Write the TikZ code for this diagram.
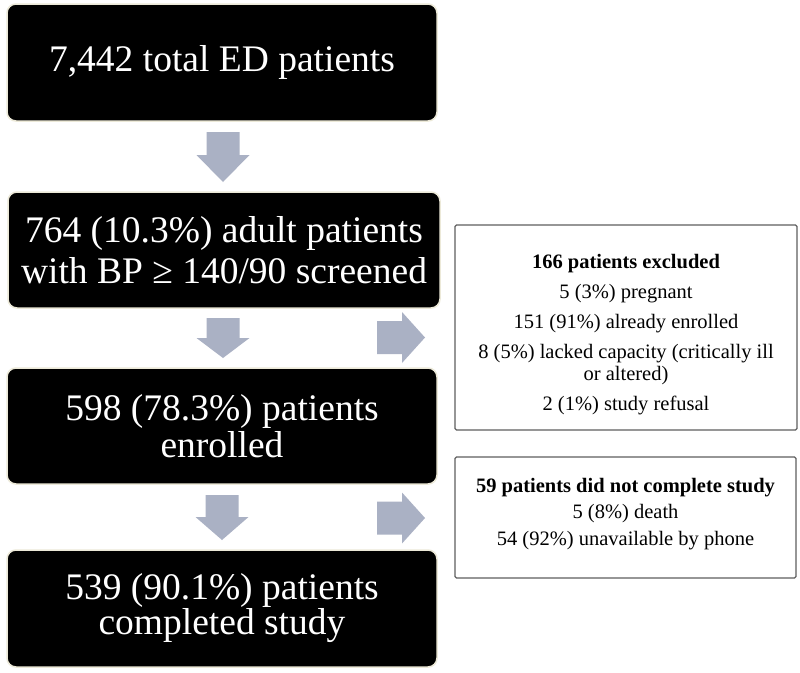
\documentclass[tikz,border=0pt]{standalone}
\usepackage{fontspec}
\setmainfont{Liberation Serif}
\definecolor{arrowfill}{RGB}{170,177,196}
\definecolor{glow}{RGB}{236,233,216}
\definecolor{sideline}{RGB}{95,95,95}
\tikzset{
  bigbox/.style={rectangle, fill=black, draw=glow, line width=1.5pt, rounded corners=9pt,
    text=white, align=center, inner sep=0pt, minimum width=430pt, minimum height=117pt},
  sidebox/.style={rectangle, draw=sideline, line width=1.3pt, rounded corners=1.5pt, inner sep=0pt},
  sidetext/.style={align=center, inner sep=0pt, anchor=north, font=\fontsize{20.5}{22}\selectfont},
}
\newcommand\downblock[3]{%
  \fill[arrowfill, shift={(#1)}] (-16.5,0) -- (16.5,0) -- (16.5,#3) -- (26.5,#3) -- (0,#2)
    -- (-26.5,#3) -- (-16.5,#3) -- cycle;}
\newcommand\rightblock[1]{%
  \fill[arrowfill, shift={(#1)}] (0,-16.5) -- (25,-16.5) -- (25,-25.5) -- (48,0)
    -- (25,25.5) -- (25,16.5) -- (0,16.5) -- cycle;}
\begin{document}
\begin{tikzpicture}[x=1pt, y=-1pt]
  \useasboundingbox (0,0) rectangle (800,672);
  \fill[white] (0,0) rectangle (800,672);

  % main boxes
  \node[bigbox, font=\fontsize{37.5}{41}\selectfont] (b1) at (222,62.5) {7,442 total ED patients};
  \node[bigbox, minimum width=432pt, minimum height=116pt, font=\fontsize{37.5}{41}\selectfont] (b2) at (224,250)
    {764 (10.3\%) adult patients\\with BP ≥ 140/90 screened};
  \node[bigbox, minimum height=116pt, font=\fontsize{37.5}{37}\selectfont] (b3) at (222,426)
    {598 (78.3\%) patients\\enrolled};
  \node[bigbox, font=\fontsize{37.5}{35}\selectfont] (b4) at (222,608.5)
    {539 (90.1\%) patients\\completed study};

  % side boxes
  \node[sidebox, minimum width=342pt, minimum height=205pt] (r1) at (626,327.5) {};
  \node[sidetext] (t1) at (626,254)
    {\textbf{166 patients excluded}\\[8pt]
     5 (3\%) pregnant\\[8pt]
     151 (91\%) already enrolled\\[8pt]
     8 (5\%) lacked capacity (critically ill\\
     or altered)\\[8pt]
     2 (1\%) study refusal};
  \node[sidebox, minimum width=341pt, minimum height=121pt] (r2) at (625.5,517.5) {};
  \node[sidetext] (t2) at (625.5,478)
    {\textbf{59 patients did not complete study}\\[4.5pt]
     5 (8\%) death\\[4.5pt]
     54 (92\%) unavailable by phone};

  % block arrows
  \coordinate (d1) at (223,132);
  \coordinate (d2) at (223,318);
  \coordinate (d3) at (222,495);
  \coordinate (s1) at (377,337.5);
  \coordinate (s2) at (377,518);
  \downblock{d1}{50}{23}
  \downblock{d2}{40}{20}
  \downblock{d3}{45}{22}
  \rightblock{s1}
  \rightblock{s2}
\end{tikzpicture}
\end{document}
